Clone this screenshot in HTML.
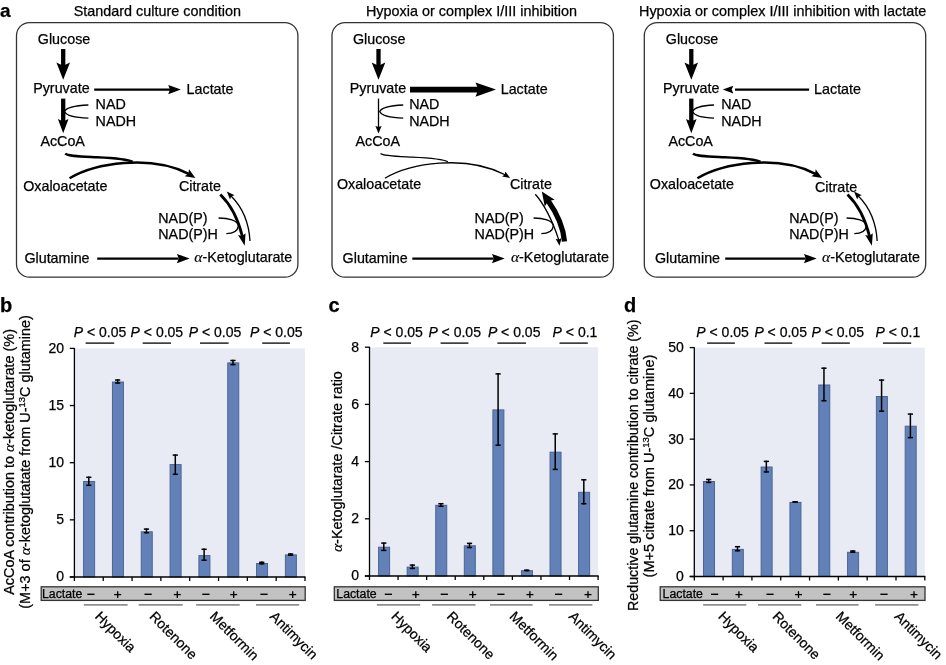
<!DOCTYPE html>
<html><head><meta charset="utf-8"><style>
html,body{margin:0;padding:0;background:#fff;}
svg{display:block;will-change:transform;}
text{font-family:"Liberation Sans", sans-serif;fill:#000;stroke:#000;stroke-width:0.25px;}
</style></head><body>
<svg width="946" height="665" viewBox="0 0 946 665">
<rect width="946" height="665" fill="#fff"/>
<text x="0.00" y="16.60" font-size="19" font-weight="bold">a</text>
<text x="157.30" y="15.90" font-size="14.4" text-anchor="middle">Standard culture condition</text>
<text x="471.50" y="15.90" font-size="14.4" text-anchor="middle">Hypoxia or complex I/III inhibition</text>
<text x="782.60" y="15.90" font-size="14.4" text-anchor="middle">Hypoxia or complex I/III inhibition with lactate</text>
<rect x="16.5" y="22.6" width="281.4" height="254.6" rx="13" ry="13" fill="none" stroke="#333" stroke-width="1.3"/>
<rect x="332.0" y="22.6" width="281.4" height="254.6" rx="13" ry="13" fill="none" stroke="#333" stroke-width="1.3"/>
<rect x="644.3" y="22.6" width="281.4" height="254.6" rx="13" ry="13" fill="none" stroke="#333" stroke-width="1.3"/>
<text x="37.80" y="43.80" font-size="14.3" >Glucose</text>
<text x="33.20" y="93.40" font-size="14.3" >Pyruvate</text>
<text x="186.60" y="93.60" font-size="14.3" >Lactate</text>
<text x="95.60" y="108.90" font-size="14.3" >NAD</text>
<text x="95.60" y="126.00" font-size="14.3" >NADH</text>
<text x="40.40" y="146.30" font-size="14.3" >AcCoA</text>
<text x="23.20" y="190.80" font-size="14.3" >Oxaloacetate</text>
<text x="178.90" y="190.70" font-size="14.3" >Citrate</text>
<text x="158.30" y="222.80" font-size="14.3" >NAD(P)</text>
<text x="158.30" y="239.40" font-size="14.3" >NAD(P)H</text>
<text x="24.40" y="262.60" font-size="14.3" >Glutamine</text>
<text x="194.30" y="262.20" font-size="14.3" ><tspan font-family='Liberation Serif' font-style='italic' stroke-width='0.15' font-size='15.6'>&#945;</tspan>-Ketoglutarate</text>
<line x1="63.20" y1="49.00" x2="63.20" y2="66.00" stroke="#000" stroke-width="4.3" stroke-linecap="butt"/>
<polygon points="63.20,79.80 56.40,62.60 63.20,65.80 70.00,62.60" fill="#000"/>
<line x1="63.20" y1="98.60" x2="63.20" y2="122.00" stroke="#000" stroke-width="4.3" stroke-linecap="butt"/>
<polygon points="63.20,133.20 57.90,119.00 63.20,121.60 68.50,119.00" fill="#000"/>
<path d="M88.40,105 C74.40,105.6 66.20,107.5 64.40,111.6 C66.20,115.8 74.40,117.8 88.40,118.2" stroke="#000" stroke-width="1.3" fill="none" stroke-linecap="butt"/>
<line x1="94.20" y1="89.60" x2="170.00" y2="89.60" stroke="#000" stroke-width="2.4" stroke-linecap="butt"/>
<polygon points="180.90,89.60 168.20,94.30 170.00,89.60 168.20,84.90" fill="#000"/>
<path d="M65.20,153.6 C68.00,156.2 80.00,156.4 97.00,157.2 C112.00,157.9 127.00,158.6 132.60,161.8" stroke="#000" stroke-width="2.5" fill="none" stroke-linecap="butt"/>
<path d="M69.60,178.30 C95.00,163.20 150.00,154.30 188.63,173.84" stroke="#000" stroke-width="2.5" fill="none" stroke-linecap="butt"/>
<polygon points="195.40,177.90 184.66,176.36 188.37,173.68 188.99,169.15" fill="#000"/>
<path d="M220.30,194.50 C230.00,204.00 237.50,216.00 242.35,236.39" stroke="#000" stroke-width="2.7" fill="none" stroke-linecap="butt"/>
<polygon points="244.70,245.80 238.01,235.10 242.27,236.10 245.57,233.21" fill="#000"/>
<path d="M250.00,241.00 C249.00,224.00 243.00,208.00 231.09,196.08" stroke="#000" stroke-width="1.3" fill="none" stroke-linecap="butt"/>
<polygon points="226.80,191.60 234.65,195.16 231.30,196.29 230.02,199.59" fill="#000"/>
<path d="M218.60,218 C228.60,218 237.60,220.5 238.40,225.8 C237.60,231 232.60,233.6 226.30,233.6" stroke="#000" stroke-width="1.3" fill="none" stroke-linecap="butt"/>
<line x1="97.20" y1="258.60" x2="178.60" y2="258.60" stroke="#000" stroke-width="2.4" stroke-linecap="butt"/>
<polygon points="189.60,258.60 176.90,263.30 178.70,258.60 176.90,253.90" fill="#000"/>
<text x="352.90" y="43.80" font-size="14.3" >Glucose</text>
<text x="349.80" y="93.40" font-size="14.3" >Pyruvate</text>
<text x="500.70" y="93.60" font-size="14.3" >Lactate</text>
<text x="409.20" y="108.90" font-size="14.3" >NAD</text>
<text x="409.20" y="126.00" font-size="14.3" >NADH</text>
<text x="355.50" y="146.30" font-size="14.3" >AcCoA</text>
<text x="336.90" y="188.60" font-size="14.3" >Oxaloacetate</text>
<text x="509.90" y="188.90" font-size="14.3" >Citrate</text>
<text x="474.60" y="222.80" font-size="14.3" >NAD(P)</text>
<text x="474.60" y="239.40" font-size="14.3" >NAD(P)H</text>
<text x="342.60" y="262.60" font-size="14.3" >Glutamine</text>
<text x="510.90" y="262.20" font-size="14.3" ><tspan font-family='Liberation Serif' font-style='italic' stroke-width='0.15' font-size='15.6'>&#945;</tspan>-Ketoglutarate</text>
<line x1="378.50" y1="49.00" x2="378.50" y2="66.00" stroke="#000" stroke-width="4.3" stroke-linecap="butt"/>
<polygon points="378.50,79.80 371.70,62.60 378.50,65.80 385.30,62.60" fill="#000"/>
<line x1="378.50" y1="98.60" x2="378.50" y2="128.00" stroke="#000" stroke-width="1.3" stroke-linecap="butt"/>
<polygon points="378.50,133.40 375.40,125.90 378.50,127.10 381.60,125.90" fill="#000"/>
<path d="M403.20,105 C389.20,105.6 381.50,107.5 379.70,111.6 C381.50,115.8 389.20,117.8 403.20,118.2" stroke="#000" stroke-width="1.3" fill="none" stroke-linecap="butt"/>
<line x1="410.00" y1="89.60" x2="480.00" y2="89.60" stroke="#000" stroke-width="5.6" stroke-linecap="butt"/>
<polygon points="496.00,89.60 475.50,96.80 478.30,89.60 475.50,82.40" fill="#000"/>
<path d="M380.50,153.6 C383.30,156.2 395.30,156.4 412.30,157.2 C427.30,157.9 442.30,158.6 447.90,161.8" stroke="#000" stroke-width="1.3" fill="none" stroke-linecap="butt"/>
<path d="M384.90,178.30 C410.30,163.20 465.30,154.30 505.00,174.74" stroke="#000" stroke-width="1.3" fill="none" stroke-linecap="butt"/>
<polygon points="510.10,177.90 502.14,176.50 504.75,174.58 505.31,171.40" fill="#000"/>
<path d="M535.30,194.30 C544.30,204.50 552.10,220.00 558.79,239.84" stroke="#000" stroke-width="1.3" fill="none" stroke-linecap="butt"/>
<polygon points="559.50,245.80 555.63,238.71 558.75,239.54 561.59,238.00" fill="#000"/>
<path d="M564.50,241.50 C563.50,230.00 558.80,216.00 548.13,200.84" stroke="#000" stroke-width="5.2" fill="none" stroke-linecap="butt"/>
<polygon points="541.80,191.60 554.66,199.76 548.30,201.09 544.76,206.54" fill="#000"/>
<path d="M533.60,218 C543.60,218 552.60,220.5 553.40,225.8 C552.60,231 547.60,233.6 541.30,233.6" stroke="#000" stroke-width="1.3" fill="none" stroke-linecap="butt"/>
<line x1="412.30" y1="258.60" x2="493.70" y2="258.60" stroke="#000" stroke-width="2.4" stroke-linecap="butt"/>
<polygon points="504.70,258.60 492.00,263.30 493.80,258.60 492.00,253.90" fill="#000"/>
<text x="665.80" y="43.80" font-size="14.3" >Glucose</text>
<text x="663.00" y="93.40" font-size="14.3" >Pyruvate</text>
<text x="814.10" y="93.60" font-size="14.3" >Lactate</text>
<text x="721.20" y="108.90" font-size="14.3" >NAD</text>
<text x="721.20" y="126.00" font-size="14.3" >NADH</text>
<text x="668.40" y="146.30" font-size="14.3" >AcCoA</text>
<text x="649.80" y="188.60" font-size="14.3" >Oxaloacetate</text>
<text x="815.00" y="191.50" font-size="14.3" >Citrate</text>
<text x="789.20" y="222.80" font-size="14.3" >NAD(P)</text>
<text x="789.20" y="239.40" font-size="14.3" >NAD(P)H</text>
<text x="654.90" y="262.60" font-size="14.3" >Glutamine</text>
<text x="822.00" y="262.20" font-size="14.3" ><tspan font-family='Liberation Serif' font-style='italic' stroke-width='0.15' font-size='15.6'>&#945;</tspan>-Ketoglutarate</text>
<line x1="691.30" y1="49.00" x2="691.30" y2="66.00" stroke="#000" stroke-width="4.3" stroke-linecap="butt"/>
<polygon points="691.30,79.80 684.50,62.60 691.30,65.80 698.10,62.60" fill="#000"/>
<line x1="691.30" y1="98.60" x2="691.30" y2="122.00" stroke="#000" stroke-width="4.3" stroke-linecap="butt"/>
<polygon points="691.30,133.20 686.00,119.00 691.30,121.60 696.60,119.00" fill="#000"/>
<path d="M714.00,105 C700.00,105.6 694.30,107.5 692.50,111.6 C694.30,115.8 700.00,117.8 714.00,118.2" stroke="#000" stroke-width="1.3" fill="none" stroke-linecap="butt"/>
<line x1="735.00" y1="89.60" x2="809.10" y2="89.60" stroke="#000" stroke-width="2.4" stroke-linecap="butt"/>
<polygon points="722.80,89.60 733.30,85.70 731.70,89.60 733.30,93.50" fill="#000"/>
<path d="M693.00,153.6 C695.80,156.2 707.80,156.4 724.80,157.2 C739.80,157.9 754.80,158.6 760.40,161.8" stroke="#000" stroke-width="2.5" fill="none" stroke-linecap="butt"/>
<path d="M697.40,178.30 C722.80,163.20 777.80,154.30 815.33,173.84" stroke="#000" stroke-width="2.5" fill="none" stroke-linecap="butt"/>
<polygon points="822.10,177.90 811.36,176.36 815.07,173.68 815.69,169.15" fill="#000"/>
<path d="M847.50,194.50 C857.20,204.00 864.70,216.00 869.55,236.39" stroke="#000" stroke-width="2.7" fill="none" stroke-linecap="butt"/>
<polygon points="871.90,245.80 865.21,235.10 869.47,236.10 872.77,233.21" fill="#000"/>
<path d="M877.20,241.00 C876.20,224.00 870.20,208.00 858.29,196.08" stroke="#000" stroke-width="1.3" fill="none" stroke-linecap="butt"/>
<polygon points="854.00,191.60 861.85,195.16 858.50,196.29 857.22,199.59" fill="#000"/>
<path d="M846.60,218 C856.60,218 865.60,220.5 866.40,225.8 C865.60,231 860.60,233.6 854.30,233.6" stroke="#000" stroke-width="1.3" fill="none" stroke-linecap="butt"/>
<line x1="725.20" y1="258.60" x2="805.70" y2="258.60" stroke="#000" stroke-width="2.4" stroke-linecap="butt"/>
<polygon points="816.70,258.60 804.00,263.30 805.80,258.60 804.00,253.90" fill="#000"/>
<text x="0.00" y="311.60" font-size="20" font-weight="bold">b</text>
<rect x="74.40" y="348.40" width="230.60" height="228.60" fill="#e8ebf4"/>
<rect x="83.61" y="481.50" width="11" height="95.50" fill="#6181b8" stroke="#4c6494" stroke-width="1"/>
<rect x="112.44" y="382.00" width="11" height="195.00" fill="#6181b8" stroke="#4c6494" stroke-width="1"/>
<rect x="141.26" y="531.80" width="11" height="45.20" fill="#6181b8" stroke="#4c6494" stroke-width="1"/>
<rect x="170.09" y="464.60" width="11" height="112.40" fill="#6181b8" stroke="#4c6494" stroke-width="1"/>
<rect x="198.91" y="555.60" width="11" height="21.40" fill="#6181b8" stroke="#4c6494" stroke-width="1"/>
<rect x="227.74" y="362.90" width="11" height="214.10" fill="#6181b8" stroke="#4c6494" stroke-width="1"/>
<rect x="256.56" y="563.50" width="11" height="13.50" fill="#6181b8" stroke="#4c6494" stroke-width="1"/>
<rect x="285.39" y="554.90" width="11" height="22.10" fill="#6181b8" stroke="#4c6494" stroke-width="1"/>
<line x1="88.81" y1="476.60" x2="88.81" y2="486.00" stroke="#000" stroke-width="1.5" stroke-linecap="butt"/>
<line x1="86.21" y1="477.30" x2="91.41" y2="477.30" stroke="#000" stroke-width="1.5" stroke-linecap="butt"/>
<line x1="86.21" y1="485.30" x2="91.41" y2="485.30" stroke="#000" stroke-width="1.5" stroke-linecap="butt"/>
<line x1="117.64" y1="379.30" x2="117.64" y2="383.70" stroke="#000" stroke-width="1.5" stroke-linecap="butt"/>
<line x1="115.04" y1="380.00" x2="120.24" y2="380.00" stroke="#000" stroke-width="1.5" stroke-linecap="butt"/>
<line x1="115.04" y1="383.00" x2="120.24" y2="383.00" stroke="#000" stroke-width="1.5" stroke-linecap="butt"/>
<line x1="146.46" y1="528.40" x2="146.46" y2="533.40" stroke="#000" stroke-width="1.5" stroke-linecap="butt"/>
<line x1="143.86" y1="529.10" x2="149.06" y2="529.10" stroke="#000" stroke-width="1.5" stroke-linecap="butt"/>
<line x1="143.86" y1="532.70" x2="149.06" y2="532.70" stroke="#000" stroke-width="1.5" stroke-linecap="butt"/>
<line x1="175.29" y1="454.40" x2="175.29" y2="475.00" stroke="#000" stroke-width="1.5" stroke-linecap="butt"/>
<line x1="172.69" y1="455.10" x2="177.89" y2="455.10" stroke="#000" stroke-width="1.5" stroke-linecap="butt"/>
<line x1="172.69" y1="474.30" x2="177.89" y2="474.30" stroke="#000" stroke-width="1.5" stroke-linecap="butt"/>
<line x1="204.11" y1="548.60" x2="204.11" y2="560.90" stroke="#000" stroke-width="1.5" stroke-linecap="butt"/>
<line x1="201.51" y1="549.30" x2="206.71" y2="549.30" stroke="#000" stroke-width="1.5" stroke-linecap="butt"/>
<line x1="201.51" y1="560.20" x2="206.71" y2="560.20" stroke="#000" stroke-width="1.5" stroke-linecap="butt"/>
<line x1="232.94" y1="359.80" x2="232.94" y2="365.30" stroke="#000" stroke-width="1.5" stroke-linecap="butt"/>
<line x1="230.34" y1="360.50" x2="235.54" y2="360.50" stroke="#000" stroke-width="1.5" stroke-linecap="butt"/>
<line x1="230.34" y1="364.60" x2="235.54" y2="364.60" stroke="#000" stroke-width="1.5" stroke-linecap="butt"/>
<line x1="261.76" y1="561.60" x2="261.76" y2="564.50" stroke="#000" stroke-width="1.5" stroke-linecap="butt"/>
<line x1="259.16" y1="562.30" x2="264.36" y2="562.30" stroke="#000" stroke-width="1.5" stroke-linecap="butt"/>
<line x1="259.16" y1="563.80" x2="264.36" y2="563.80" stroke="#000" stroke-width="1.5" stroke-linecap="butt"/>
<line x1="290.59" y1="553.30" x2="290.59" y2="555.80" stroke="#000" stroke-width="1.5" stroke-linecap="butt"/>
<line x1="287.99" y1="554.00" x2="293.19" y2="554.00" stroke="#000" stroke-width="1.5" stroke-linecap="butt"/>
<line x1="287.99" y1="555.10" x2="293.19" y2="555.10" stroke="#000" stroke-width="1.5" stroke-linecap="butt"/>
<line x1="74.40" y1="348.00" x2="74.40" y2="581.00" stroke="#000" stroke-width="1.3" stroke-linecap="butt"/>
<line x1="69.80" y1="577.00" x2="305.60" y2="577.00" stroke="#000" stroke-width="1.3" stroke-linecap="butt"/>
<line x1="103.23" y1="577.00" x2="103.23" y2="581.00" stroke="#000" stroke-width="1.3" stroke-linecap="butt"/>
<line x1="132.05" y1="577.00" x2="132.05" y2="581.00" stroke="#000" stroke-width="1.3" stroke-linecap="butt"/>
<line x1="160.88" y1="577.00" x2="160.88" y2="581.00" stroke="#000" stroke-width="1.3" stroke-linecap="butt"/>
<line x1="189.70" y1="577.00" x2="189.70" y2="581.00" stroke="#000" stroke-width="1.3" stroke-linecap="butt"/>
<line x1="218.53" y1="577.00" x2="218.53" y2="581.00" stroke="#000" stroke-width="1.3" stroke-linecap="butt"/>
<line x1="247.35" y1="577.00" x2="247.35" y2="581.00" stroke="#000" stroke-width="1.3" stroke-linecap="butt"/>
<line x1="276.18" y1="577.00" x2="276.18" y2="581.00" stroke="#000" stroke-width="1.3" stroke-linecap="butt"/>
<line x1="305.00" y1="577.00" x2="305.00" y2="581.00" stroke="#000" stroke-width="1.3" stroke-linecap="butt"/>
<line x1="69.80" y1="577.00" x2="74.40" y2="577.00" stroke="#000" stroke-width="1.3" stroke-linecap="butt"/>
<text x="64.00" y="581.40" font-size="14" text-anchor="end">0</text>
<line x1="69.80" y1="519.85" x2="74.40" y2="519.85" stroke="#000" stroke-width="1.3" stroke-linecap="butt"/>
<text x="64.00" y="524.25" font-size="14" text-anchor="end">5</text>
<line x1="69.80" y1="462.70" x2="74.40" y2="462.70" stroke="#000" stroke-width="1.3" stroke-linecap="butt"/>
<text x="64.00" y="467.10" font-size="14" text-anchor="end">10</text>
<line x1="69.80" y1="405.55" x2="74.40" y2="405.55" stroke="#000" stroke-width="1.3" stroke-linecap="butt"/>
<text x="64.00" y="409.95" font-size="14" text-anchor="end">15</text>
<line x1="69.80" y1="348.40" x2="74.40" y2="348.40" stroke="#000" stroke-width="1.3" stroke-linecap="butt"/>
<text x="64.00" y="352.80" font-size="14" text-anchor="end">20</text>
<text x="73.70" y="336.60" font-size="14" ><tspan font-style="italic">P</tspan> &lt; 0.05</text>
<line x1="85.60" y1="343.10" x2="114.20" y2="343.10" stroke="#000" stroke-width="1.3" stroke-linecap="butt"/>
<text x="130.60" y="336.60" font-size="14" ><tspan font-style="italic">P</tspan> &lt; 0.05</text>
<line x1="142.70" y1="343.10" x2="171.00" y2="343.10" stroke="#000" stroke-width="1.3" stroke-linecap="butt"/>
<text x="188.70" y="336.60" font-size="14" ><tspan font-style="italic">P</tspan> &lt; 0.05</text>
<line x1="200.00" y1="343.10" x2="228.60" y2="343.10" stroke="#000" stroke-width="1.3" stroke-linecap="butt"/>
<text x="250.00" y="336.60" font-size="14" ><tspan font-style="italic">P</tspan> &lt; 0.05</text>
<line x1="262.20" y1="343.10" x2="289.90" y2="343.10" stroke="#000" stroke-width="1.3" stroke-linecap="butt"/>
<rect x="41.20" y="586.8" width="264.00" height="13.6" fill="#c2c2c2" stroke="#333" stroke-width="1.3"/>
<text x="42.00" y="598.00" font-size="12.3" >Lactate</text>
<line x1="87.30" y1="594.30" x2="94.50" y2="594.30" stroke="#000" stroke-width="1.4" stroke-linecap="butt"/>
<line x1="114.20" y1="594.60" x2="121.20" y2="594.60" stroke="#000" stroke-width="1.3" stroke-linecap="butt"/>
<line x1="117.70" y1="591.20" x2="117.70" y2="598.00" stroke="#000" stroke-width="1.3" stroke-linecap="butt"/>
<line x1="144.50" y1="594.30" x2="151.70" y2="594.30" stroke="#000" stroke-width="1.4" stroke-linecap="butt"/>
<line x1="173.80" y1="594.60" x2="180.80" y2="594.60" stroke="#000" stroke-width="1.3" stroke-linecap="butt"/>
<line x1="177.30" y1="591.20" x2="177.30" y2="598.00" stroke="#000" stroke-width="1.3" stroke-linecap="butt"/>
<line x1="202.30" y1="594.30" x2="209.50" y2="594.30" stroke="#000" stroke-width="1.4" stroke-linecap="butt"/>
<line x1="230.20" y1="594.60" x2="237.20" y2="594.60" stroke="#000" stroke-width="1.3" stroke-linecap="butt"/>
<line x1="233.70" y1="591.20" x2="233.70" y2="598.00" stroke="#000" stroke-width="1.3" stroke-linecap="butt"/>
<line x1="260.40" y1="594.30" x2="267.60" y2="594.30" stroke="#000" stroke-width="1.4" stroke-linecap="butt"/>
<line x1="289.20" y1="594.60" x2="296.20" y2="594.60" stroke="#000" stroke-width="1.3" stroke-linecap="butt"/>
<line x1="292.70" y1="591.20" x2="292.70" y2="598.00" stroke="#000" stroke-width="1.3" stroke-linecap="butt"/>
<line x1="83.80" y1="604.80" x2="127.60" y2="604.80" stroke="#8e8e8e" stroke-width="1.8" stroke-linecap="butt"/>
<text transform="translate(94.13,617.3) rotate(45)" font-size="14">Hypoxia</text>
<line x1="138.70" y1="604.80" x2="182.70" y2="604.80" stroke="#8e8e8e" stroke-width="1.8" stroke-linecap="butt"/>
<text transform="translate(148.68,617.3) rotate(45)" font-size="14">Rotenone</text>
<line x1="196.20" y1="604.80" x2="239.70" y2="604.80" stroke="#8e8e8e" stroke-width="1.8" stroke-linecap="butt"/>
<text transform="translate(209.03,617.3) rotate(45)" font-size="14">Metformin</text>
<line x1="256.00" y1="604.80" x2="299.20" y2="604.80" stroke="#8e8e8e" stroke-width="1.8" stroke-linecap="butt"/>
<text transform="translate(269.07,617.3) rotate(45)" font-size="14">Antimycin</text>
<text transform="translate(13.90,461.90) rotate(-90)" font-size="14.45" text-anchor="middle">AcCoA contribution to <tspan font-family='Liberation Serif' font-style='italic' stroke-width='0.15' font-size='15.6'>&#945;</tspan>-ketoglutarate (%)</text>
<text transform="translate(30.20,461.90) rotate(-90)" font-size="14.45" text-anchor="middle">(M+3 of <tspan font-family='Liberation Serif' font-style='italic' stroke-width='0.15' font-size='15.6'>&#945;</tspan>-ketoglutatate from U-<tspan font-size='9.5' dy='-5'>13</tspan><tspan dy='5'>C glutamine)</tspan></text>
<text x="328.50" y="311.60" font-size="20" font-weight="bold">c</text>
<rect x="369.50" y="347.20" width="228.60" height="228.80" fill="#e8ebf4"/>
<rect x="378.59" y="547.20" width="11" height="28.80" fill="#6181b8" stroke="#4c6494" stroke-width="1"/>
<rect x="407.16" y="567.10" width="11" height="8.90" fill="#6181b8" stroke="#4c6494" stroke-width="1"/>
<rect x="435.74" y="505.30" width="11" height="70.70" fill="#6181b8" stroke="#4c6494" stroke-width="1"/>
<rect x="464.31" y="545.80" width="11" height="30.20" fill="#6181b8" stroke="#4c6494" stroke-width="1"/>
<rect x="492.89" y="409.90" width="11" height="166.10" fill="#6181b8" stroke="#4c6494" stroke-width="1"/>
<rect x="521.46" y="570.70" width="11" height="5.30" fill="#6181b8" stroke="#4c6494" stroke-width="1"/>
<rect x="550.04" y="452.20" width="11" height="123.80" fill="#6181b8" stroke="#4c6494" stroke-width="1"/>
<rect x="578.61" y="492.30" width="11" height="83.70" fill="#6181b8" stroke="#4c6494" stroke-width="1"/>
<line x1="383.79" y1="542.40" x2="383.79" y2="551.10" stroke="#000" stroke-width="1.5" stroke-linecap="butt"/>
<line x1="381.19" y1="543.10" x2="386.39" y2="543.10" stroke="#000" stroke-width="1.5" stroke-linecap="butt"/>
<line x1="381.19" y1="550.40" x2="386.39" y2="550.40" stroke="#000" stroke-width="1.5" stroke-linecap="butt"/>
<line x1="412.36" y1="564.40" x2="412.36" y2="569.10" stroke="#000" stroke-width="1.5" stroke-linecap="butt"/>
<line x1="409.76" y1="565.10" x2="414.96" y2="565.10" stroke="#000" stroke-width="1.5" stroke-linecap="butt"/>
<line x1="409.76" y1="568.40" x2="414.96" y2="568.40" stroke="#000" stroke-width="1.5" stroke-linecap="butt"/>
<line x1="440.94" y1="503.00" x2="440.94" y2="507.00" stroke="#000" stroke-width="1.5" stroke-linecap="butt"/>
<line x1="438.34" y1="503.70" x2="443.54" y2="503.70" stroke="#000" stroke-width="1.5" stroke-linecap="butt"/>
<line x1="438.34" y1="506.30" x2="443.54" y2="506.30" stroke="#000" stroke-width="1.5" stroke-linecap="butt"/>
<line x1="469.51" y1="542.70" x2="469.51" y2="548.20" stroke="#000" stroke-width="1.5" stroke-linecap="butt"/>
<line x1="466.91" y1="543.40" x2="472.11" y2="543.40" stroke="#000" stroke-width="1.5" stroke-linecap="butt"/>
<line x1="466.91" y1="547.50" x2="472.11" y2="547.50" stroke="#000" stroke-width="1.5" stroke-linecap="butt"/>
<line x1="498.09" y1="373.20" x2="498.09" y2="445.90" stroke="#000" stroke-width="1.5" stroke-linecap="butt"/>
<line x1="495.49" y1="373.90" x2="500.69" y2="373.90" stroke="#000" stroke-width="1.5" stroke-linecap="butt"/>
<line x1="495.49" y1="445.20" x2="500.69" y2="445.20" stroke="#000" stroke-width="1.5" stroke-linecap="butt"/>
<line x1="526.66" y1="569.50" x2="526.66" y2="571.30" stroke="#000" stroke-width="1.5" stroke-linecap="butt"/>
<line x1="524.06" y1="570.20" x2="529.26" y2="570.20" stroke="#000" stroke-width="1.5" stroke-linecap="butt"/>
<line x1="524.06" y1="570.60" x2="529.26" y2="570.60" stroke="#000" stroke-width="1.5" stroke-linecap="butt"/>
<line x1="555.24" y1="433.20" x2="555.24" y2="470.10" stroke="#000" stroke-width="1.5" stroke-linecap="butt"/>
<line x1="552.64" y1="433.90" x2="557.84" y2="433.90" stroke="#000" stroke-width="1.5" stroke-linecap="butt"/>
<line x1="552.64" y1="469.40" x2="557.84" y2="469.40" stroke="#000" stroke-width="1.5" stroke-linecap="butt"/>
<line x1="583.81" y1="479.10" x2="583.81" y2="504.40" stroke="#000" stroke-width="1.5" stroke-linecap="butt"/>
<line x1="581.21" y1="479.80" x2="586.41" y2="479.80" stroke="#000" stroke-width="1.5" stroke-linecap="butt"/>
<line x1="581.21" y1="503.70" x2="586.41" y2="503.70" stroke="#000" stroke-width="1.5" stroke-linecap="butt"/>
<line x1="369.50" y1="346.80" x2="369.50" y2="580.00" stroke="#000" stroke-width="1.3" stroke-linecap="butt"/>
<line x1="364.90" y1="576.00" x2="598.70" y2="576.00" stroke="#000" stroke-width="1.3" stroke-linecap="butt"/>
<line x1="398.07" y1="576.00" x2="398.07" y2="580.00" stroke="#000" stroke-width="1.3" stroke-linecap="butt"/>
<line x1="426.65" y1="576.00" x2="426.65" y2="580.00" stroke="#000" stroke-width="1.3" stroke-linecap="butt"/>
<line x1="455.23" y1="576.00" x2="455.23" y2="580.00" stroke="#000" stroke-width="1.3" stroke-linecap="butt"/>
<line x1="483.80" y1="576.00" x2="483.80" y2="580.00" stroke="#000" stroke-width="1.3" stroke-linecap="butt"/>
<line x1="512.38" y1="576.00" x2="512.38" y2="580.00" stroke="#000" stroke-width="1.3" stroke-linecap="butt"/>
<line x1="540.95" y1="576.00" x2="540.95" y2="580.00" stroke="#000" stroke-width="1.3" stroke-linecap="butt"/>
<line x1="569.53" y1="576.00" x2="569.53" y2="580.00" stroke="#000" stroke-width="1.3" stroke-linecap="butt"/>
<line x1="598.10" y1="576.00" x2="598.10" y2="580.00" stroke="#000" stroke-width="1.3" stroke-linecap="butt"/>
<line x1="364.90" y1="576.00" x2="369.50" y2="576.00" stroke="#000" stroke-width="1.3" stroke-linecap="butt"/>
<text x="359.10" y="580.40" font-size="14" text-anchor="end">0</text>
<line x1="364.90" y1="518.80" x2="369.50" y2="518.80" stroke="#000" stroke-width="1.3" stroke-linecap="butt"/>
<text x="359.10" y="523.20" font-size="14" text-anchor="end">2</text>
<line x1="364.90" y1="461.60" x2="369.50" y2="461.60" stroke="#000" stroke-width="1.3" stroke-linecap="butt"/>
<text x="359.10" y="466.00" font-size="14" text-anchor="end">4</text>
<line x1="364.90" y1="404.40" x2="369.50" y2="404.40" stroke="#000" stroke-width="1.3" stroke-linecap="butt"/>
<text x="359.10" y="408.80" font-size="14" text-anchor="end">6</text>
<line x1="364.90" y1="347.20" x2="369.50" y2="347.20" stroke="#000" stroke-width="1.3" stroke-linecap="butt"/>
<text x="359.10" y="351.60" font-size="14" text-anchor="end">8</text>
<text x="370.30" y="336.60" font-size="14" ><tspan font-style="italic">P</tspan> &lt; 0.05</text>
<line x1="383.30" y1="343.10" x2="411.00" y2="343.10" stroke="#000" stroke-width="1.3" stroke-linecap="butt"/>
<text x="428.40" y="336.60" font-size="14" ><tspan font-style="italic">P</tspan> &lt; 0.05</text>
<line x1="440.60" y1="343.10" x2="468.40" y2="343.10" stroke="#000" stroke-width="1.3" stroke-linecap="butt"/>
<text x="487.90" y="336.60" font-size="14" ><tspan font-style="italic">P</tspan> &lt; 0.05</text>
<line x1="497.40" y1="343.10" x2="526.00" y2="343.10" stroke="#000" stroke-width="1.3" stroke-linecap="butt"/>
<text x="552.60" y="336.60" font-size="14" ><tspan font-style="italic">P</tspan> &lt; 0.1</text>
<line x1="559.50" y1="343.10" x2="587.80" y2="343.10" stroke="#000" stroke-width="1.3" stroke-linecap="butt"/>
<rect x="334.30" y="586.8" width="264.00" height="13.6" fill="#c2c2c2" stroke="#333" stroke-width="1.3"/>
<text x="336.30" y="598.00" font-size="12.3" >Lactate</text>
<line x1="384.80" y1="594.30" x2="392.00" y2="594.30" stroke="#000" stroke-width="1.4" stroke-linecap="butt"/>
<line x1="412.30" y1="594.60" x2="419.30" y2="594.60" stroke="#000" stroke-width="1.3" stroke-linecap="butt"/>
<line x1="415.80" y1="591.20" x2="415.80" y2="598.00" stroke="#000" stroke-width="1.3" stroke-linecap="butt"/>
<line x1="440.70" y1="594.30" x2="447.90" y2="594.30" stroke="#000" stroke-width="1.4" stroke-linecap="butt"/>
<line x1="469.20" y1="594.60" x2="476.20" y2="594.60" stroke="#000" stroke-width="1.3" stroke-linecap="butt"/>
<line x1="472.70" y1="591.20" x2="472.70" y2="598.00" stroke="#000" stroke-width="1.3" stroke-linecap="butt"/>
<line x1="497.30" y1="594.30" x2="504.50" y2="594.30" stroke="#000" stroke-width="1.4" stroke-linecap="butt"/>
<line x1="526.40" y1="594.60" x2="533.40" y2="594.60" stroke="#000" stroke-width="1.3" stroke-linecap="butt"/>
<line x1="529.90" y1="591.20" x2="529.90" y2="598.00" stroke="#000" stroke-width="1.3" stroke-linecap="butt"/>
<line x1="555.00" y1="594.30" x2="562.20" y2="594.30" stroke="#000" stroke-width="1.4" stroke-linecap="butt"/>
<line x1="584.50" y1="594.60" x2="591.50" y2="594.60" stroke="#000" stroke-width="1.3" stroke-linecap="butt"/>
<line x1="588.00" y1="591.20" x2="588.00" y2="598.00" stroke="#000" stroke-width="1.3" stroke-linecap="butt"/>
<line x1="376.90" y1="604.80" x2="420.20" y2="604.80" stroke="#8e8e8e" stroke-width="1.8" stroke-linecap="butt"/>
<text transform="translate(390.57,617.3) rotate(45)" font-size="14">Hypoxia</text>
<line x1="432.10" y1="604.80" x2="475.50" y2="604.80" stroke="#8e8e8e" stroke-width="1.8" stroke-linecap="butt"/>
<text transform="translate(446.12,617.3) rotate(45)" font-size="14">Rotenone</text>
<line x1="490.00" y1="604.80" x2="532.60" y2="604.80" stroke="#8e8e8e" stroke-width="1.8" stroke-linecap="butt"/>
<text transform="translate(508.77,617.3) rotate(45)" font-size="14">Metformin</text>
<line x1="549.10" y1="604.80" x2="592.40" y2="604.80" stroke="#8e8e8e" stroke-width="1.8" stroke-linecap="butt"/>
<text transform="translate(567.93,617.3) rotate(45)" font-size="14">Antimycin</text>
<text transform="translate(341.60,461.60) rotate(-90)" font-size="14.4" text-anchor="middle"><tspan font-family='Liberation Serif' font-style='italic' stroke-width='0.15' font-size='15.6'>&#945;</tspan>-Ketoglutarate /Citrate ratio</text>
<text x="624.00" y="311.60" font-size="20" font-weight="bold">d</text>
<rect x="694.30" y="347.60" width="230.50" height="228.90" fill="#e8ebf4"/>
<rect x="703.51" y="481.50" width="11" height="95.00" fill="#6181b8" stroke="#4c6494" stroke-width="1"/>
<rect x="732.32" y="549.40" width="11" height="27.10" fill="#6181b8" stroke="#4c6494" stroke-width="1"/>
<rect x="761.13" y="467.00" width="11" height="109.50" fill="#6181b8" stroke="#4c6494" stroke-width="1"/>
<rect x="789.94" y="502.40" width="11" height="74.10" fill="#6181b8" stroke="#4c6494" stroke-width="1"/>
<rect x="818.76" y="385.00" width="11" height="191.50" fill="#6181b8" stroke="#4c6494" stroke-width="1"/>
<rect x="847.57" y="552.30" width="11" height="24.20" fill="#6181b8" stroke="#4c6494" stroke-width="1"/>
<rect x="876.38" y="396.50" width="11" height="180.00" fill="#6181b8" stroke="#4c6494" stroke-width="1"/>
<rect x="905.19" y="426.20" width="11" height="150.30" fill="#6181b8" stroke="#4c6494" stroke-width="1"/>
<line x1="708.71" y1="478.80" x2="708.71" y2="483.10" stroke="#000" stroke-width="1.5" stroke-linecap="butt"/>
<line x1="706.11" y1="479.50" x2="711.31" y2="479.50" stroke="#000" stroke-width="1.5" stroke-linecap="butt"/>
<line x1="706.11" y1="482.40" x2="711.31" y2="482.40" stroke="#000" stroke-width="1.5" stroke-linecap="butt"/>
<line x1="737.52" y1="546.00" x2="737.52" y2="551.40" stroke="#000" stroke-width="1.5" stroke-linecap="butt"/>
<line x1="734.92" y1="546.70" x2="740.12" y2="546.70" stroke="#000" stroke-width="1.5" stroke-linecap="butt"/>
<line x1="734.92" y1="550.70" x2="740.12" y2="550.70" stroke="#000" stroke-width="1.5" stroke-linecap="butt"/>
<line x1="766.33" y1="460.70" x2="766.33" y2="472.60" stroke="#000" stroke-width="1.5" stroke-linecap="butt"/>
<line x1="763.73" y1="461.40" x2="768.93" y2="461.40" stroke="#000" stroke-width="1.5" stroke-linecap="butt"/>
<line x1="763.73" y1="471.90" x2="768.93" y2="471.90" stroke="#000" stroke-width="1.5" stroke-linecap="butt"/>
<line x1="795.14" y1="501.20" x2="795.14" y2="502.60" stroke="#000" stroke-width="1.5" stroke-linecap="butt"/>
<line x1="792.54" y1="501.90" x2="797.74" y2="501.90" stroke="#000" stroke-width="1.5" stroke-linecap="butt"/>
<line x1="792.54" y1="501.90" x2="797.74" y2="501.90" stroke="#000" stroke-width="1.5" stroke-linecap="butt"/>
<line x1="823.96" y1="367.50" x2="823.96" y2="401.40" stroke="#000" stroke-width="1.5" stroke-linecap="butt"/>
<line x1="821.36" y1="368.20" x2="826.56" y2="368.20" stroke="#000" stroke-width="1.5" stroke-linecap="butt"/>
<line x1="821.36" y1="400.70" x2="826.56" y2="400.70" stroke="#000" stroke-width="1.5" stroke-linecap="butt"/>
<line x1="852.77" y1="550.30" x2="852.77" y2="552.90" stroke="#000" stroke-width="1.5" stroke-linecap="butt"/>
<line x1="850.17" y1="551.00" x2="855.37" y2="551.00" stroke="#000" stroke-width="1.5" stroke-linecap="butt"/>
<line x1="850.17" y1="552.20" x2="855.37" y2="552.20" stroke="#000" stroke-width="1.5" stroke-linecap="butt"/>
<line x1="881.58" y1="379.40" x2="881.58" y2="411.90" stroke="#000" stroke-width="1.5" stroke-linecap="butt"/>
<line x1="878.98" y1="380.10" x2="884.18" y2="380.10" stroke="#000" stroke-width="1.5" stroke-linecap="butt"/>
<line x1="878.98" y1="411.20" x2="884.18" y2="411.20" stroke="#000" stroke-width="1.5" stroke-linecap="butt"/>
<line x1="910.39" y1="413.40" x2="910.39" y2="438.30" stroke="#000" stroke-width="1.5" stroke-linecap="butt"/>
<line x1="907.79" y1="414.10" x2="912.99" y2="414.10" stroke="#000" stroke-width="1.5" stroke-linecap="butt"/>
<line x1="907.79" y1="437.60" x2="912.99" y2="437.60" stroke="#000" stroke-width="1.5" stroke-linecap="butt"/>
<line x1="694.30" y1="347.20" x2="694.30" y2="580.50" stroke="#000" stroke-width="1.3" stroke-linecap="butt"/>
<line x1="689.70" y1="576.50" x2="925.40" y2="576.50" stroke="#000" stroke-width="1.3" stroke-linecap="butt"/>
<line x1="723.11" y1="576.50" x2="723.11" y2="580.50" stroke="#000" stroke-width="1.3" stroke-linecap="butt"/>
<line x1="751.92" y1="576.50" x2="751.92" y2="580.50" stroke="#000" stroke-width="1.3" stroke-linecap="butt"/>
<line x1="780.74" y1="576.50" x2="780.74" y2="580.50" stroke="#000" stroke-width="1.3" stroke-linecap="butt"/>
<line x1="809.55" y1="576.50" x2="809.55" y2="580.50" stroke="#000" stroke-width="1.3" stroke-linecap="butt"/>
<line x1="838.36" y1="576.50" x2="838.36" y2="580.50" stroke="#000" stroke-width="1.3" stroke-linecap="butt"/>
<line x1="867.17" y1="576.50" x2="867.17" y2="580.50" stroke="#000" stroke-width="1.3" stroke-linecap="butt"/>
<line x1="895.99" y1="576.50" x2="895.99" y2="580.50" stroke="#000" stroke-width="1.3" stroke-linecap="butt"/>
<line x1="924.80" y1="576.50" x2="924.80" y2="580.50" stroke="#000" stroke-width="1.3" stroke-linecap="butt"/>
<line x1="689.70" y1="576.50" x2="694.30" y2="576.50" stroke="#000" stroke-width="1.3" stroke-linecap="butt"/>
<text x="683.90" y="580.90" font-size="14" text-anchor="end">0</text>
<line x1="689.70" y1="530.72" x2="694.30" y2="530.72" stroke="#000" stroke-width="1.3" stroke-linecap="butt"/>
<text x="683.90" y="535.12" font-size="14" text-anchor="end">10</text>
<line x1="689.70" y1="484.94" x2="694.30" y2="484.94" stroke="#000" stroke-width="1.3" stroke-linecap="butt"/>
<text x="683.90" y="489.34" font-size="14" text-anchor="end">20</text>
<line x1="689.70" y1="439.16" x2="694.30" y2="439.16" stroke="#000" stroke-width="1.3" stroke-linecap="butt"/>
<text x="683.90" y="443.56" font-size="14" text-anchor="end">30</text>
<line x1="689.70" y1="393.38" x2="694.30" y2="393.38" stroke="#000" stroke-width="1.3" stroke-linecap="butt"/>
<text x="683.90" y="397.78" font-size="14" text-anchor="end">40</text>
<line x1="689.70" y1="347.60" x2="694.30" y2="347.60" stroke="#000" stroke-width="1.3" stroke-linecap="butt"/>
<text x="683.90" y="352.00" font-size="14" text-anchor="end">50</text>
<text x="696.30" y="336.60" font-size="14" ><tspan font-style="italic">P</tspan> &lt; 0.05</text>
<line x1="707.10" y1="343.10" x2="734.90" y2="343.10" stroke="#000" stroke-width="1.3" stroke-linecap="butt"/>
<text x="754.40" y="336.60" font-size="14" ><tspan font-style="italic">P</tspan> &lt; 0.05</text>
<line x1="764.50" y1="343.10" x2="792.20" y2="343.10" stroke="#000" stroke-width="1.3" stroke-linecap="butt"/>
<text x="811.50" y="336.60" font-size="14" ><tspan font-style="italic">P</tspan> &lt; 0.05</text>
<line x1="821.60" y1="343.10" x2="849.80" y2="343.10" stroke="#000" stroke-width="1.3" stroke-linecap="butt"/>
<text x="875.50" y="336.60" font-size="14" ><tspan font-style="italic">P</tspan> &lt; 0.1</text>
<line x1="882.90" y1="343.10" x2="911.20" y2="343.10" stroke="#000" stroke-width="1.3" stroke-linecap="butt"/>
<rect x="660.20" y="586.8" width="264.80" height="13.6" fill="#c2c2c2" stroke="#333" stroke-width="1.3"/>
<text x="662.60" y="598.00" font-size="12.3" >Lactate</text>
<line x1="711.00" y1="594.30" x2="718.20" y2="594.30" stroke="#000" stroke-width="1.4" stroke-linecap="butt"/>
<line x1="735.40" y1="594.60" x2="742.40" y2="594.60" stroke="#000" stroke-width="1.3" stroke-linecap="butt"/>
<line x1="738.90" y1="591.20" x2="738.90" y2="598.00" stroke="#000" stroke-width="1.3" stroke-linecap="butt"/>
<line x1="766.40" y1="594.30" x2="773.60" y2="594.30" stroke="#000" stroke-width="1.4" stroke-linecap="butt"/>
<line x1="795.00" y1="594.60" x2="802.00" y2="594.60" stroke="#000" stroke-width="1.3" stroke-linecap="butt"/>
<line x1="798.50" y1="591.20" x2="798.50" y2="598.00" stroke="#000" stroke-width="1.3" stroke-linecap="butt"/>
<line x1="823.30" y1="594.30" x2="830.50" y2="594.30" stroke="#000" stroke-width="1.4" stroke-linecap="butt"/>
<line x1="849.70" y1="594.60" x2="856.70" y2="594.60" stroke="#000" stroke-width="1.3" stroke-linecap="butt"/>
<line x1="853.20" y1="591.20" x2="853.20" y2="598.00" stroke="#000" stroke-width="1.3" stroke-linecap="butt"/>
<line x1="880.40" y1="594.30" x2="887.60" y2="594.30" stroke="#000" stroke-width="1.4" stroke-linecap="butt"/>
<line x1="910.50" y1="594.60" x2="917.50" y2="594.60" stroke="#000" stroke-width="1.3" stroke-linecap="butt"/>
<line x1="914.00" y1="591.20" x2="914.00" y2="598.00" stroke="#000" stroke-width="1.3" stroke-linecap="butt"/>
<line x1="703.10" y1="604.80" x2="746.30" y2="604.80" stroke="#8e8e8e" stroke-width="1.8" stroke-linecap="butt"/>
<text transform="translate(717.41,617.3) rotate(45)" font-size="14">Hypoxia</text>
<line x1="758.00" y1="604.80" x2="801.30" y2="604.80" stroke="#8e8e8e" stroke-width="1.8" stroke-linecap="butt"/>
<text transform="translate(771.64,617.3) rotate(45)" font-size="14">Rotenone</text>
<line x1="816.00" y1="604.80" x2="858.60" y2="604.80" stroke="#8e8e8e" stroke-width="1.8" stroke-linecap="butt"/>
<text transform="translate(835.06,617.3) rotate(45)" font-size="14">Metformin</text>
<line x1="875.10" y1="604.80" x2="918.40" y2="604.80" stroke="#8e8e8e" stroke-width="1.8" stroke-linecap="butt"/>
<text transform="translate(893.69,617.3) rotate(45)" font-size="14">Antimycin</text>
<text transform="translate(637.50,465.25) rotate(-90)" font-size="14.25" text-anchor="middle">Reductive glutamine contribution to citrate (%)</text>
<text transform="translate(654.20,466.05) rotate(-90)" font-size="14.55" text-anchor="middle">(M+5 citrate from U-<tspan font-size='9.5' dy='-5'>13</tspan><tspan dy='5'>C glutamine)</tspan></text>
</svg>
</body></html>
